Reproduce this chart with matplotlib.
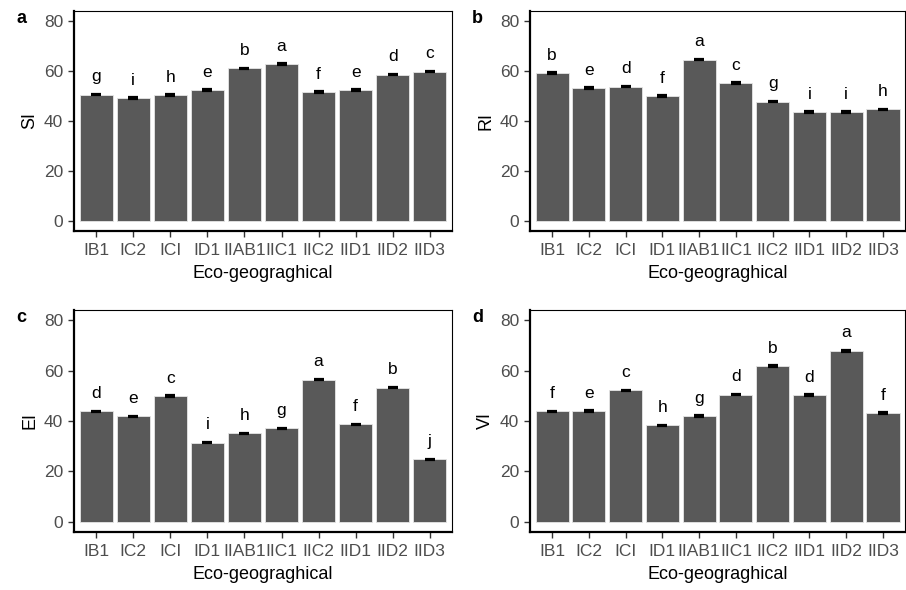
"""Four-panel bar chart of eco-geographical index means with letter groups."""

import matplotlib

matplotlib.use("Agg")
import matplotlib.pyplot as plt
import numpy as np

plt.rcParams["font.family"] = ["Liberation Sans", "DejaVu Sans"]

regions = ["IB1", "IC2", "ICI", "ID1", "IIAB1", "IIC1", "IIC2", "IID1", "IID2", "IID3"]

si_mean = [50.5, 49.1, 50.3, 52.3, 61.0, 62.7, 51.5, 52.4, 58.5, 59.7]
si_se = [0.3, 0.3, 0.3, 0.3, 0.3, 0.3, 0.3, 0.3, 0.3, 0.3]
si_letters = ["g", "i", "h", "e", "b", "a", "f", "e", "d", "c"]

ri_mean = [59.2, 53.2, 53.7, 50.0, 64.5, 55.2, 47.7, 43.6, 43.6, 44.6]
ri_se = [0.3, 0.3, 0.3, 0.3, 0.3, 0.3, 0.3, 0.3, 0.3, 0.3]
ri_letters = ["b", "e", "d", "f", "a", "c", "g", "i", "i", "h"]

ei_mean = [43.8, 41.8, 49.9, 31.4, 35.1, 37.1, 56.4, 38.7, 53.2, 24.8]
ei_se = [0.3, 0.3, 0.3, 0.3, 0.3, 0.3, 0.3, 0.3, 0.3, 0.3]
ei_letters = ["d", "e", "c", "i", "h", "g", "a", "f", "b", "j"]

vi_mean = [43.8, 43.9, 52.1, 38.3, 42.0, 50.5, 61.7, 50.3, 67.8, 43.2]
vi_se = [0.3, 0.3, 0.3, 0.3, 0.3, 0.3, 0.3, 0.3, 0.3, 0.3]
vi_letters = ["f", "e", "c", "h", "g", "d", "b", "d", "a", "f"]

panels = [
    ("a", "SI", si_mean, si_se, si_letters, [0.0817, 0.6085, 0.4172, 0.3729]),
    ("b", "RI", ri_mean, ri_se, ri_letters, [0.5850, 0.6085, 0.4140, 0.3729]),
    ("c", "EI", ei_mean, ei_se, ei_letters, [0.0817, 0.0983, 0.4172, 0.3763]),
    ("d", "VI", vi_mean, vi_se, vi_letters, [0.5850, 0.0983, 0.4140, 0.3763]),
]

fig = plt.figure(figsize=(9.06, 5.90), dpi=100)

for tag, name, mean, se, letters, rect in panels:
    ax = fig.add_axes(rect)
    x = np.arange(len(regions))
    mean = np.asarray(mean)
    se = np.asarray(se)

    ax.bar(x, mean, width=0.9, color="#595959", edgecolor="#e6e6e6", lw=0.6, zorder=2)
    ax.errorbar(x, mean, yerr=se, fmt="none", ecolor="black", elinewidth=1.2,
                capsize=3.5, capthick=1.6, zorder=3)
    for xi, yi, lab in zip(x, mean, letters):
        ax.text(xi, yi + 5.3, lab, ha="center", va="baseline", fontsize=12.5, color="black")

    ax.set_xlim(-0.6, len(regions) - 0.4)
    ax.set_ylim(-4, 84)
    ax.set_yticks([0, 20, 40, 60, 80])
    ax.set_xticks(x)
    ax.set_xticklabels(regions)
    ax.tick_params(axis="both", colors="#333333", labelcolor="#4d4d4d",
                   labelsize=12.5, length=4.3, width=1.0)
    ax.tick_params(axis="x", pad=4.5)
    ax.tick_params(axis="y", pad=3.5)
    ax.set_xlabel("Eco-geograghical", fontsize=13, color="black", labelpad=5)
    ax.set_ylabel(name, fontsize=13, color="black", labelpad=4)

    for side in ["left", "bottom"]:
        ax.spines[side].set_linewidth(1.6)
    for side in ["top", "right"]:
        ax.spines[side].set_linewidth(0.8)

    fig.text(rect[0] - 0.064, rect[1] + rect[3] - 0.012, tag, fontsize=13,
             fontweight="bold", ha="left", va="center")

fig.savefig("out.png", dpi=100)
plt.close(fig)
